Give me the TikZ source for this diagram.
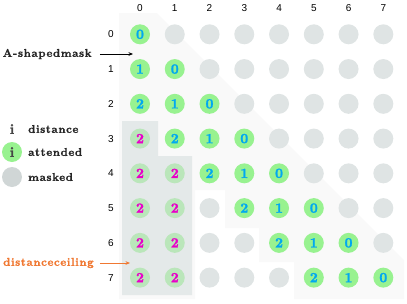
\documentclass[tikz,border=0pt]{standalone}
\usepackage{fontspec}
\newfontfamily\axisfont{Liberation Sans}
\newfontfamily\heavyfont{lmroman10-bold.otf}[FakeBold=1.2, LetterSpace=5]
\newfontfamily\digitfont{lmroman10-bold.otf}[FakeBold=1.4]
\usetikzlibrary{arrows.meta}
\definecolor{attgreen}{RGB}{152,242,144}
\definecolor{fadegreen}{RGB}{186,230,186}
\definecolor{maskgray}{RGB}{223,228,228}
\definecolor{legendgray}{RGB}{208,214,214}
\definecolor{ceilgray}{RGB}{228,233,233}
\definecolor{bandgray}{RGB}{249,249,249}
\definecolor{distcyan}{RGB}{0,168,240}
\definecolor{distmag}{RGB}{232,0,200}
\definecolor{ceilorange}{RGB}{240,120,50}
\definecolor{inkgray}{RGB}{70,70,70}
\tikzset{
  cell/.style={circle, minimum size=20pt, inner sep=0pt, font=\digitfont\fontsize{14}{14}\selectfont},
  attended/.style={cell, fill=attgreen, text=distcyan},
  capped/.style={cell, fill=fadegreen, text=distmag},
  maskedcell/.style={cell, fill=maskgray},
  axislabel/.style={font=\axisfont\fontsize{10}{10}\selectfont, text=black, inner sep=0pt},
  legendtext/.style={font=\heavyfont\fontsize{11.3}{12}\selectfont, text=black!85, anchor=west, inner sep=0pt},
  pointer/.style={line width=0.7pt, -{Stealth[length=4.5pt,width=3.6pt]}}
}
\begin{document}
\begin{tikzpicture}[x=1pt,y=-1pt]
\useasboundingbox (0,0) rectangle (407,303);
% light A-shaped band
\fill[bandgray] (119,13) -- (157,13) -- (404,260) -- (404,299) -- (294,299) -- (294,262)
  -- (259,262) -- (259,228) -- (225,228) -- (225,190) -- (195,190) -- (195,299) -- (119,299) -- cycle;
% distance ceiling region
\fill[ceilgray] (122,121) -- (158,121) -- (158,156) -- (192,156) -- (192,295) -- (122,295) -- cycle;
% axis labels
\foreach \c in {0,...,7}{
  \node[axislabel] (col\c) at (140+34.76*\c, 8) {\c};
}
\foreach \r in {0,...,7}{
  \node[axislabel] (row\r) at (111, 34.3+34.76*\r) {\r};
}
% cells
\foreach \r in {0,...,7}{
  \foreach \c in {0,...,7}{
    \pgfmathtruncatemacro{\d}{\r-\c}
    \ifnum\d<0
      \node[maskedcell] (n\r\c) at (140+34.76*\c, 34.3+34.76*\r) {};
    \else
      \ifnum\d>2
        \ifnum\c<2
          \node[capped] (n\r\c) at (140+34.76*\c, 34.3+34.76*\r) {2};
        \else
          \node[maskedcell] (n\r\c) at (140+34.76*\c, 34.3+34.76*\r) {};
        \fi
      \else
        \node[attended] (n\r\c) at (140+34.76*\c, 34.3+34.76*\r) {\d};
      \fi
    \fi
  }
}
% legend
\node[font=\digitfont\fontsize{14}{14}\selectfont, text=inkgray, inner sep=0pt] (legi) at (12,129) {i};
\node[legendtext] (legdist) at (28,129) {distance};
\node[cell, fill=attgreen, text=inkgray] (legatt) at (12,152) {i};
\node[legendtext] (legatttext) at (28,152) {attended};
\node[cell, fill=legendgray] (legmask) at (12,177) {};
\node[legendtext] (legmasktext) at (28,177) {masked};
% annotations
\node[legendtext] (amask) at (2.5,54) {A-shapedmask};
\coordinate (amaskend) at (133,54);
\draw[pointer] ([xshift=8pt]amask.east) -- (amaskend);
\node[legendtext, text=ceilorange] (ceil) at (3,263) {distanceceiling};
\coordinate (ceilend) at (130,263);
\draw[pointer, draw=ceilorange] ([xshift=6pt]ceil.east) -- (ceilend);
\end{tikzpicture}
\end{document}
